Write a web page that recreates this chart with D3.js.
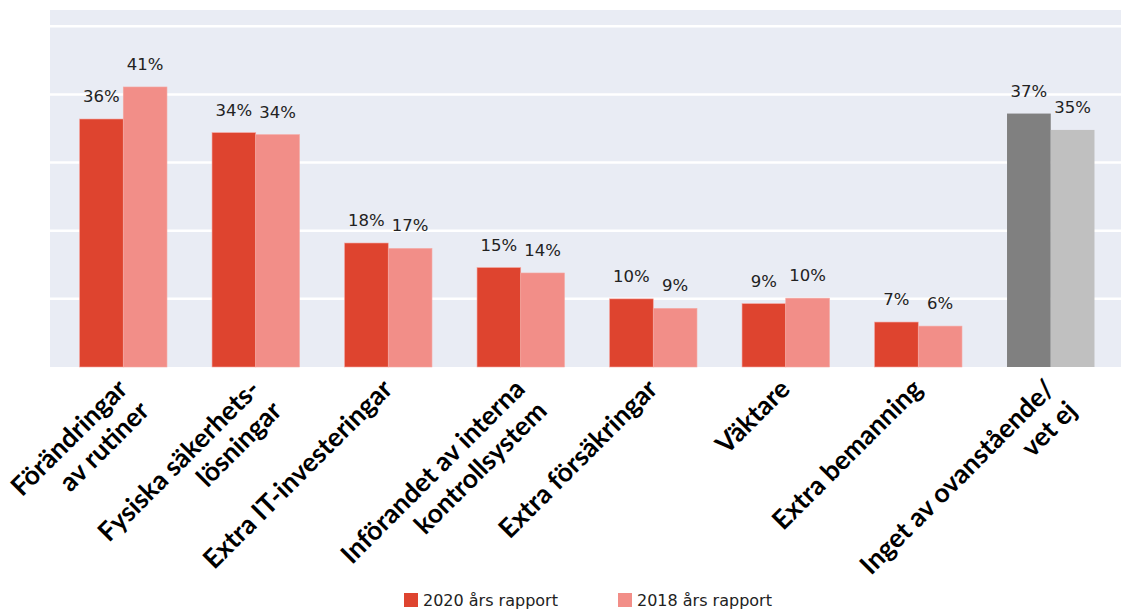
<!DOCTYPE html>
<html>
<head>
<meta charset="utf-8">
<script src="https://cdn.jsdelivr.net/npm/d3@7"></script>
<style>
  body { margin: 0; background: #fff; }
  svg { display: block; }
</style>
</head>
<body>
<svg width="1122" height="609"></svg>
<script>
// values (percent)
const categories = [
  ["Förändringar", "av rutiner"],
  ["Fysiska säkerhets-", "lösningar"],
  ["Extra IT-investeringar"],
  ["Införandet av interna", "kontrollsystem"],
  ["Extra försäkringar"],
  ["Väktare"],
  ["Extra bemanning"],
  ["Inget av ovanstående/", "vet ej"]
];
const report2020 = [36.4, 34.4, 18.2, 14.6, 10.0, 9.3, 6.6, 37.2];
const report2018 = [41.1, 34.1, 17.4, 13.8, 8.6, 10.1, 6.0, 34.8];
const seriesNames = ["2020 års rapport", "2018 års rapport"];
const gridTicks = [10, 20, 30, 40, 50];

const svg = d3.select("svg"),
    plot = {left: 50, right: 1121, top: 10, bottom: 367};

const x = d3.scaleBand()
    .domain(d3.range(categories.length))
    .range([57, 1117])
    .paddingInner(0.34)
    .paddingOuter(0.17);

const x1 = d3.scaleBand()
    .domain([0, 1])
    .range([0, x.bandwidth()]);

const y = d3.scaleLinear()
    .domain([0, 52.4])
    .range([plot.bottom, plot.top]);

// last group is drawn in greys
const colors = [["#de442f", "#f28e88"], ["#808080", "#c0c0c0"]];
const colorFor = (i, s) => colors[i === categories.length - 1 ? 1 : 0][s];

svg.append("rect")
    .attr("x", plot.left)
    .attr("y", plot.top)
    .attr("width", plot.right - plot.left)
    .attr("height", plot.bottom - plot.top)
    .attr("fill", "#e9ecf4");

svg.append("g")
  .selectAll("line")
  .data(gridTicks)
  .enter().append("line")
    .attr("x1", plot.left)
    .attr("x2", plot.right)
    .attr("y1", d => y(d))
    .attr("y2", d => y(d))
    .attr("stroke", "#fff")
    .attr("stroke-width", 2.5);

const rows = categories.map((c, i) => ({i: i, values: [report2020[i], report2018[i]]}));

const groups = svg.append("g")
  .selectAll("g")
  .data(rows)
  .enter().append("g")
    .attr("transform", d => "translate(" + x(d.i) + ",0)");

groups.selectAll("rect")
  .data(d => d.values.map((v, s) => ({i: d.i, s: s, v: v})))
  .enter().append("rect")
    .attr("x", d => x1(d.s))
    .attr("y", d => y(d.v))
    .attr("width", x1.bandwidth())
    .attr("height", d => y(0) - y(d.v))
    .attr("fill", d => colorFor(d.i, d.s))
    .attr("stroke", d => d.i === categories.length - 1 ? "none" : "#f5a8a2")
    .attr("stroke-width", 0.6);

groups.selectAll("text")
  .data(d => d.values.map((v, s) => ({s: s, v: v})))
  .enter().append("text")
    .attr("x", d => x1(d.s) + x1.bandwidth() / 2)
    .attr("y", d => y(d.v) - 17)
    .attr("text-anchor", "middle")
    .attr("font-family", "DejaVu Sans, sans-serif")
    .attr("font-size", 16.5)
    .attr("fill", "#222")
    .text(d => Math.round(d.v) + "%");

// rotated category labels, lines right-aligned, first line at the tick
const lineH = 31;
const labels = svg.append("g")
  .selectAll("text")
  .data(categories)
  .enter().append("text")
    .attr("transform", (d, i) => "translate(" + (x(i) + x.bandwidth() / 2) + ",385) rotate(-45)")
    .attr("text-anchor", "end")
    .attr("font-family", "Lato, sans-serif")
    .attr("font-weight", "bold")
    .attr("font-size", 26.5)
    .attr("fill", "#000");

labels.selectAll("tspan")
  .data(d => d.map((t, k) => ({t: t, k: k})))
  .enter().append("tspan")
    .attr("x", 0)
    .attr("y", d => d.k * lineH + 8)
    .text(d => d.t);

// legend
const legend = svg.append("g")
  .selectAll("g")
  .data(seriesNames)
  .enter().append("g")
    .attr("transform", (d, i) => "translate(" + (404 + i * 214) + ",593)");

legend.append("rect")
    .attr("width", 14)
    .attr("height", 14)
    .attr("fill", (d, i) => colors[0][i]);

legend.append("text")
    .attr("x", 19)
    .attr("y", 13)
    .attr("font-family", "DejaVu Sans, sans-serif")
    .attr("font-size", 16)
    .attr("fill", "#222")
    .text(d => d);
</script>
</body>
</html>
